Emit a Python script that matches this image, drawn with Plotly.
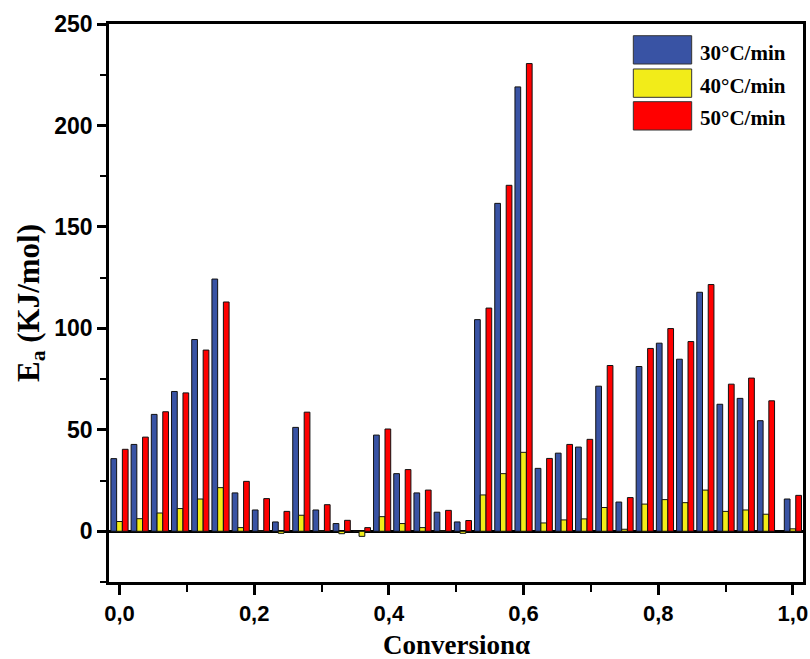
import plotly.graph_objects as go

# ---- data ----
alpha = [0.00, 0.03, 0.06, 0.09, 0.12, 0.15, 0.18, 0.21, 0.24, 0.27, 0.30, 0.33,
         0.36, 0.39, 0.42, 0.45, 0.48, 0.51, 0.54, 0.57, 0.60, 0.63, 0.66, 0.69,
         0.72, 0.75, 0.78, 0.81, 0.84, 0.87, 0.90, 0.93, 0.96, 1.00]

ea_30 = [35.8, 42.8, 57.6, 68.9, 94.5, 124.3, 18.9, 10.5, 4.6, 51.2, 10.5, 3.8,
         0.0, 47.4, 28.4, 18.9, 9.4, 4.6, 104.3, 161.6, 219.0, 31.0, 38.5, 41.5,
         71.5, 14.4, 81.2, 92.7, 84.8, 117.8, 62.6, 65.5, 54.5, 15.9]

ea_40 = [4.8, 6.2, 9.0, 11.2, 15.9, 21.5, 1.8, 0.3, -1.0, 7.9, 0.3, -1.2,
         -2.5, 7.2, 3.8, 1.8, 0.3, -1.0, 17.9, 28.4, 38.9, 4.1, 5.6, 6.1,
         11.7, 1.0, 13.4, 15.6, 14.1, 20.3, 9.8, 10.5, 8.4, 1.2]

ea_50 = [40.4, 46.4, 58.9, 68.2, 89.3, 113.0, 24.6, 16.1, 9.8, 58.7, 13.1, 5.4,
         1.8, 50.4, 30.4, 20.3, 10.3, 5.3, 110.0, 170.5, 230.5, 35.9, 42.8, 45.3,
         81.7, 16.6, 90.1, 99.9, 93.5, 121.6, 72.5, 75.5, 64.3, 17.7]

series_names = ["30°C/min", "40°C/min", "50°C/min"]
series_values = [ea_30, ea_40, ea_50]
series_colors = ["#3953A4", "#F2EC19", "#FF0000"]

x_tickvals = [0.0, 0.2, 0.4, 0.6, 0.8, 1.0]
y_tickvals = [0, 50, 100, 150, 200, 250]
x_title = "Conversionα"
y_title = "E<sub>a</sub> (KJ/mol)"

fig = go.Figure()
for name, vals, col in zip(series_names, series_values, series_colors):
    fig.add_trace(go.Bar(
        x=alpha, y=vals, name=name,
        marker=dict(color=col, line=dict(color="#111111", width=1)),
        showlegend=False,
    ))

# ---- custom legend (large swatches like the original) ----
sw_x0, sw_x1 = 0.7555, 0.8396
sw_rows = [(0.9283, 0.979), (0.8686, 0.9194), (0.8100, 0.8608)]
txt_y = [0.9475, 0.8889, 0.831]
for (y0, y1), ty, name, col in zip(sw_rows, txt_y, series_names, series_colors):
    fig.add_shape(type="rect", xref="paper", yref="paper",
                  x0=sw_x0, x1=sw_x1, y0=y0, y1=y1,
                  fillcolor=col, line=dict(color="#333333", width=1))
    fig.add_annotation(xref="paper", yref="paper", x=0.8487, y=ty,
                       xanchor="left", yanchor="middle", showarrow=False,
                       text=name,
                       font=dict(family="Liberation Serif", size=21,
                                 color="black", weight="bold"))

xtick_font = dict(family="Liberation Sans", size=22, color="black", weight="bold")
ytick_font = dict(family="Liberation Sans", size=23, color="black", weight="bold")
xtitle_font = dict(family="Liberation Serif", size=27, color="black", weight="bold")
ytitle_font = dict(family="Liberation Serif", size=31, color="black", weight="bold")

# x axis title placed as a paper annotation for exact vertical position
fig.add_annotation(xref="paper", yref="paper", x=0.5, y=-0.1129,
                   xanchor="center", yanchor="middle", showarrow=False,
                   text=x_title, font=xtitle_font)

fig.update_layout(
    width=810, height=659,
    margin=dict(l=109, r=7, t=24, b=77),
    paper_bgcolor="white", plot_bgcolor="white",
    barmode="group", bargap=0.15, bargroupgap=0.0,
    separators=",.",
    showlegend=False,
)

fig.update_xaxes(
    range=[-0.0156, 1.015],
    tickvals=x_tickvals, tickformat=".1f",
    ticks="outside", ticklen=10, tickwidth=2.5, tickcolor="black",
    minor=dict(dtick=0.1, tick0=0, ticks="outside", ticklen=7,
               tickwidth=2, tickcolor="black"),
    showline=True, linewidth=2.5, linecolor="black", mirror=True,
    showgrid=False, zeroline=False,
    tickfont=xtick_font, automargin=False,
)

fig.update_yaxes(
    range=[-25, 250],
    tickvals=y_tickvals,
    ticks="outside", ticklen=9, tickwidth=2.5, tickcolor="black",
    minor=dict(dtick=25, tick0=0, ticks="outside", ticklen=6,
               tickwidth=2, tickcolor="black"),
    showline=True, linewidth=2.5, linecolor="black", mirror=True,
    showgrid=False,
    zeroline=True, zerolinecolor="black", zerolinewidth=2.5,
    tickfont=ytick_font, automargin=False,
    title=dict(text=y_title, font=ytitle_font, standoff=6),
)

fig.write_html("out.html")
